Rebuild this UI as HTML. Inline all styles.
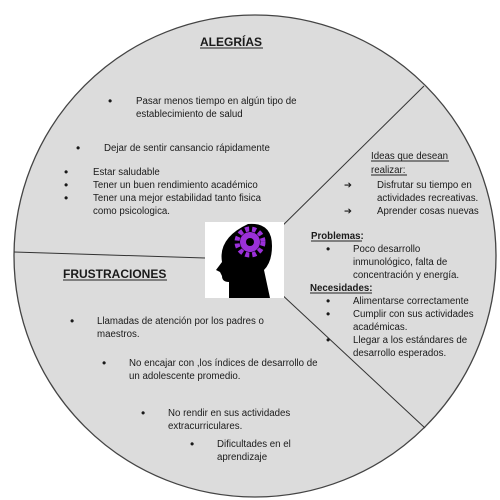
<!DOCTYPE html>
<html><head><meta charset="utf-8"><style>
html,body{margin:0;padding:0;background:#fff;width:500px;height:500px;overflow:hidden}
svg{display:block;font-family:"Liberation Sans",sans-serif}
text{font-size:9.7px;fill:#1a1a1a}
.t{font-size:12px;font-weight:bold}
.h{font-size:9.7px;font-weight:bold}
.b{font-size:12px}
</style></head><body>
<svg width="500" height="500" viewBox="0 0 500 500">
<circle cx="255" cy="256" r="241" fill="#dcdcdc" stroke="#444" stroke-width="1.3"/>
<line x1="424" y1="86" x2="268" y2="240" stroke="#333" stroke-width="1"/>
<line x1="264" y1="278" x2="425" y2="428" stroke="#333" stroke-width="1"/>
<line x1="14" y1="252" x2="205" y2="258" stroke="#333" stroke-width="1"/>
<g>
<rect x="205" y="222" width="79" height="76" fill="#fff"/>
<path d="M229 298 L229 282 Q222 282 222 276 L220 272 L216 270 L222 262 Q218 238 248 224 Q272 222 272 246 Q272 262 264 270 L270 298 Z" fill="#000"/>
<circle cx="250" cy="242" r="10" fill="#9b30d9"/>
<circle cx="250" cy="242" r="13" fill="none" stroke="#9b30d9" stroke-width="5" stroke-dasharray="4 3"/>
<circle cx="250" cy="242" r="4" fill="#000"/>
</g>
<g fill="none" stroke="#222" stroke-width="0.9">
<line x1="200" y1="48" x2="263" y2="48"/>
<line x1="63" y1="280" x2="167" y2="280"/>
<line x1="371" y1="161" x2="449" y2="161"/>
<line x1="371" y1="175" x2="407" y2="175"/>
<line x1="311" y1="241" x2="362" y2="241"/>
<line x1="310" y1="293" x2="372" y2="293"/>
</g>
<g>
<text class="t" x="200" y="46">ALEGRÍAS</text>
<text class="b" x="108" y="105">•</text><text x="136" y="104">Pasar menos tiempo en algún tipo de</text>
<text x="136" y="117">establecimiento de salud</text>
<text class="b" x="76" y="152">•</text><text x="104" y="151">Dejar de sentir cansancio rápidamente</text>
<text class="b" x="64" y="176">•</text><text x="93" y="175">Estar saludable</text>
<text class="b" x="64" y="189">•</text><text x="93" y="188">Tener un buen rendimiento académico</text>
<text class="b" x="64" y="202">•</text><text x="93" y="201">Tener una mejor estabilidad tanto fisica</text>
<text x="93" y="214">como psicologica.</text>
</g>
<g>
<text x="371" y="159">Ideas que desean</text>
<text x="371" y="173">realizar:</text>
<text x="344" y="188">➔</text><text x="377" y="188">Disfrutar su tiempo en</text>
<text x="377" y="201">actividades recreativas.</text>
<text x="344" y="214">➔</text><text x="377" y="214">Aprender cosas nuevas</text>
</g>
<g>
<text class="h" x="311" y="239">Problemas:</text>
<text class="b" x="326" y="253">•</text><text x="353" y="252">Poco desarrollo</text>
<text x="353" y="265">inmunológico, falta de</text>
<text x="353" y="278">concentración y energía.</text>
<text class="h" x="310" y="291">Necesidades:</text>
<text class="b" x="326" y="305">•</text><text x="353" y="304">Alimentarse correctamente</text>
<text class="b" x="326" y="318">•</text><text x="353" y="317">Cumplir con sus actividades</text>
<text x="353" y="330">académicas.</text>
<text class="b" x="326" y="344">•</text><text x="353" y="343">Llegar a los estándares de</text>
<text x="353" y="356">desarrollo esperados.</text>
</g>
<g>
<text class="t" x="63" y="278">FRUSTRACIONES</text>
<text class="b" x="70" y="325">•</text><text x="97" y="324">Llamadas de atención por los padres o</text>
<text x="97" y="337">maestros.</text>
<text class="b" x="102" y="367">•</text><text x="129" y="366">No encajar con ,los índices de desarrollo de</text>
<text x="129" y="379">un adolescente promedio.</text>
<text class="b" x="141" y="417">•</text><text x="168" y="416">No rendir en sus actividades</text>
<text x="168" y="429">extracurriculares.</text>
<text class="b" x="190" y="448">•</text><text x="217" y="447">Dificultades en el</text>
<text x="217" y="460">aprendizaje</text>
</g>
</svg>
</body></html>
